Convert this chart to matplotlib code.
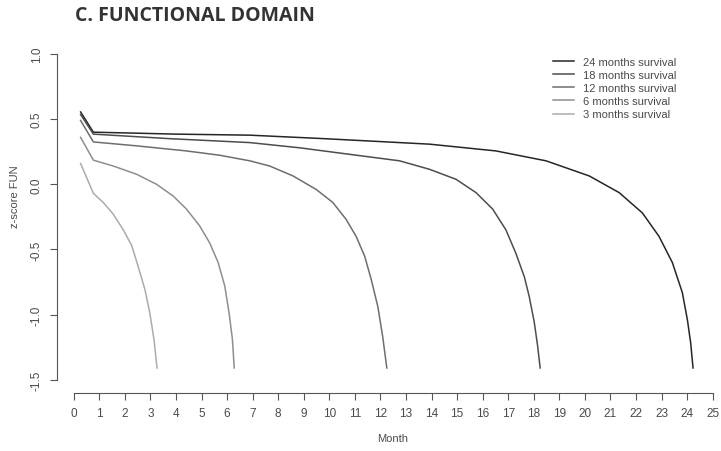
import matplotlib
matplotlib.use("Agg")
import matplotlib.pyplot as plt

# values (month, z-score)
months_3 = [0.27, 0.77, 1.16, 1.55, 1.94, 2.27, 2.52, 2.79, 2.98, 3.14, 3.26]
z_3 = [0.16, -0.07, -0.14, -0.23, -0.35, -0.47, -0.63, -0.81, -0.99, -1.19, -1.41]

months_6 = [0.27, 0.77, 1.55, 2.46, 3.24, 3.89, 4.41, 4.93, 5.32, 5.65, 5.91, 6.08, 6.21, 6.28]
z_6 = [0.36, 0.185, 0.14, 0.077, 0.0, -0.09, -0.19, -0.32, -0.45, -0.60, -0.78, -0.99, -1.19, -1.41]

months_12 = [0.27, 0.77, 2.46, 4.41, 5.71, 6.89, 7.67, 8.58, 9.49, 10.14, 10.66, 11.05,
             11.38, 11.64, 11.9, 12.09, 12.25]
z_12 = [0.49, 0.325, 0.295, 0.256, 0.223, 0.18, 0.14, 0.064, -0.04, -0.14, -0.27, -0.40,
        -0.55, -0.73, -0.94, -1.17, -1.41]

months_18 = [0.27, 0.77, 3.77, 6.89, 8.84, 10.79, 12.75, 13.92, 14.96, 15.74, 16.39, 16.91,
             17.3, 17.63, 17.82, 18.02, 18.15, 18.25]
z_18 = [0.535, 0.385, 0.35, 0.32, 0.28, 0.23, 0.18, 0.115, 0.038, -0.064, -0.19, -0.35,
        -0.53, -0.71, -0.86, -1.06, -1.24, -1.41]

months_24 = [0.27, 0.77, 4.0, 6.89, 9.82, 12.75, 13.92, 16.52, 18.48, 20.17, 21.34, 22.25,
             22.9, 23.42, 23.81, 24.01, 24.14, 24.23]
z_24 = [0.555, 0.40, 0.385, 0.377, 0.35, 0.32, 0.308, 0.256, 0.18, 0.064, -0.064, -0.22,
        -0.40, -0.60, -0.83, -1.04, -1.22, -1.41]

labels = ["24 months survival", "18 months survival", "12 months survival",
          "6 months survival", "3 months survival"]
series = [(months_24, z_24), (months_18, z_18), (months_12, z_12),
          (months_6, z_6), (months_3, z_3)]
colors = ["#262626", "#4d4d4d", "#6e6e6e", "#8e8e8e", "#ababab"]

x_ticks = list(range(0, 26))
y_ticks = [-1.5, -1.0, -0.5, 0.0, 0.5, 1.0]

plt.rcParams["font.family"] = "Liberation Sans"
txt = "#4a4a4a"

fig = plt.figure(figsize=(7.21, 4.52), dpi=100)
ax = fig.add_axes([73.7 / 721, (452 - 380.7) / 452, 639 / 721, 325.7 / 452])

handles = []
for (m, z), c, lab in zip(series, colors, labels):
  h, = ax.plot(m, z, color=c, lw=1.1, label=lab, clip_on=False)
  handles.append(h)

ax.set_xlim(0, 25)
ax.set_ylim(-1.5, 1.0)
ax.set_xticks(x_ticks)
ax.set_yticks(y_ticks)
ax.set_yticklabels([f"{v:.1f}" for v in y_ticks])

# R-style detached axes
for side in ["top", "right"]:
  ax.spines[side].set_visible(False)
ax.spines["left"].set_position(("outward", 12.2))
ax.spines["bottom"].set_position(("outward", 9.8))
ax.spines["left"].set_bounds(-1.5, 1.0)
ax.spines["bottom"].set_bounds(0, 25)
for s in ["left", "bottom"]:
  ax.spines[s].set_color("#555555")
  ax.spines[s].set_linewidth(0.8)
ax.tick_params(axis="both", length=5, width=0.8, color="#555555",
               labelsize=8.5, labelcolor=txt, pad=5)
ax.tick_params(axis="y", labelrotation=90)
for lbl in ax.get_yticklabels():
  lbl.set_va("center")

fig.text(393 / 721, 1 - 439 / 452, "Month", ha="center", va="center", fontsize=8, color=txt)
fig.text(15 / 721, 1 - 197 / 452, "z-score FUN", ha="center", va="center",
         rotation=90, fontsize=8, color=txt)

fig.text(75 / 721, 1 - 16 / 452, "C. FUNCTIONAL DOMAIN", ha="left", va="center",
         fontsize=14, fontweight="bold", family="Open Sans", color="#333333")

ax.legend(handles=handles, loc="upper left", bbox_to_anchor=(553 / 721, 1 - 58 / 452),
          bbox_transform=fig.transFigure, frameon=False, fontsize=8,
          labelcolor=txt, handlelength=1.9, handletextpad=0.8,
          labelspacing=0.28, borderpad=0, borderaxespad=0)

fig.savefig("out.png", dpi=100)
